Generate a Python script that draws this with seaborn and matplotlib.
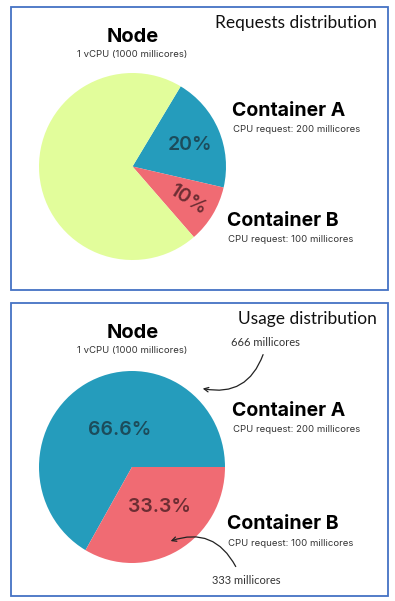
import matplotlib
matplotlib.use("Agg")
import matplotlib.pyplot as plt
import seaborn as sns
from matplotlib.patches import Rectangle

sns.set_theme(style="white")
plt.rcParams['font.family'] = ['Inter', 'DejaVu Sans']

# data
req_labels = ['Container A', 'Container B', 'Node (free)']
req_values = [20, 10, 70]
req_pct = ['20%', '10%', '']
use_labels = ['Container A', 'Container B']
use_values = [66.6, 33.3]
use_pct = ['66.6%', '33.3%']
cpu_requests = ['CPU request: 200 millicores', 'CPU request: 100 millicores']
use_millicores = ['666 millicores', '333 millicores']

blue, red, green = '#259CBC', '#F06B73', '#E2FD9B'
dark_blue, dark_red = '#1C4C5B', '#6C2D33'
border = '#4472C4'

W, H = 395, 601
fig = plt.figure(figsize=(W / 100, H / 100), dpi=100)


def fx(x):
    return x / W


def fy(y):
    return 1 - y / H


def ax_at(cx, cy, rx, ry):
    return fig.add_axes([fx(cx - rx), fy(cy + ry), 2 * rx / W, 2 * ry / H])


# panel borders
for top, bot in [(7, 290), (303, 596)]:
    fig.patches.append(Rectangle((fx(10.5), fy(bot)), fx(377), (bot - top) / H,
                                 transform=fig.transFigure, fill=False,
                                 edgecolor=border, linewidth=1.3))

# ---- requests pie
ax1 = ax_at(132.5, 166.5, 93.5, 93.5)
ax1.pie(req_values, colors=[blue, red, green], startangle=59, counterclock=False,
        wedgeprops=dict(linewidth=0))
ax1.set_aspect('auto')
ax1.set_xlim(-1, 1)
ax1.set_ylim(-1, 1)
ax1.axis('off')

fig.text(fx(190), fy(145), req_pct[0], ha='center', va='center', fontsize=14,
         fontweight='semibold', color=dark_blue)
fig.text(fx(188), fy(200), req_pct[1], ha='center', va='center', fontsize=14,
         fontweight='semibold', color=dark_red, rotation=-33)

# ---- usage pie
ax2 = ax_at(132, 467, 93, 96)
ax2.pie(use_values, colors=[blue, red], startangle=0, wedgeprops=dict(linewidth=0))
ax2.set_aspect('auto')
ax2.set_xlim(-1, 1)
ax2.set_ylim(-1, 1)
ax2.axis('off')

fig.text(fx(120), fy(430), use_pct[0], ha='center', va='center', fontsize=14,
         fontweight='semibold', color=dark_blue)
fig.text(fx(159), fy(507), use_pct[1], ha='center', va='center', fontsize=14,
         fontweight='semibold', color=dark_red)

# ---- labels for both panels
for dy, title in [(0, 'Requests distribution'), (296, 'Usage distribution')]:
    fig.text(fx(377), fy(23 + dy), title, ha='right', va='center', fontsize=12.5,
             family=['Lato', 'DejaVu Sans'], color='#111111')
    fig.text(fx(133), fy(37 + dy), 'Node', ha='center', va='center', fontsize=14.5,
             fontweight='bold', color='black')
    fig.text(fx(132), fy(54 + dy), '1 vCPU (1000 millicores)', ha='center', va='center',
             fontsize=6.9, color='#333333')

ys = [(111, 129, 221, 239), (411, 429, 524, 543)]
for ya, yac, yb, ybc in ys:
    fig.text(fx(232), fy(ya), use_labels[0], ha='left', va='center', fontsize=14,
             fontweight='bold', color='black')
    fig.text(fx(233), fy(yac), cpu_requests[0], ha='left', va='center', fontsize=6.9,
             color='#333333')
    fig.text(fx(227), fy(yb), use_labels[1], ha='left', va='center', fontsize=14,
             fontweight='bold', color='black')
    fig.text(fx(228), fy(ybc), cpu_requests[1], ha='left', va='center', fontsize=6.9,
             color='#333333')

# hand-drawn style annotations
hand = dict(fontsize=8, color='#333333', family=['Lato', 'DejaVu Sans'])
fig.text(fx(265), fy(342), use_millicores[0], ha='center', va='center', **hand)
fig.text(fx(246), fy(580), use_millicores[1], ha='center', va='center', **hand)

fig.add_artist(matplotlib.patches.FancyArrowPatch(
    (fx(264), fy(352)), (fx(200), fy(388)), transform=fig.transFigure,
    arrowstyle='->', mutation_scale=8, linewidth=0.9, color='#222222',
    connectionstyle='arc3,rad=-0.45'))
fig.add_artist(matplotlib.patches.FancyArrowPatch(
    (fx(237), fy(569)), (fx(168), fy(542)), transform=fig.transFigure,
    arrowstyle='->', mutation_scale=8, linewidth=0.9, color='#222222',
    connectionstyle='arc3,rad=0.45'))

fig.savefig('out.png', dpi=100)
